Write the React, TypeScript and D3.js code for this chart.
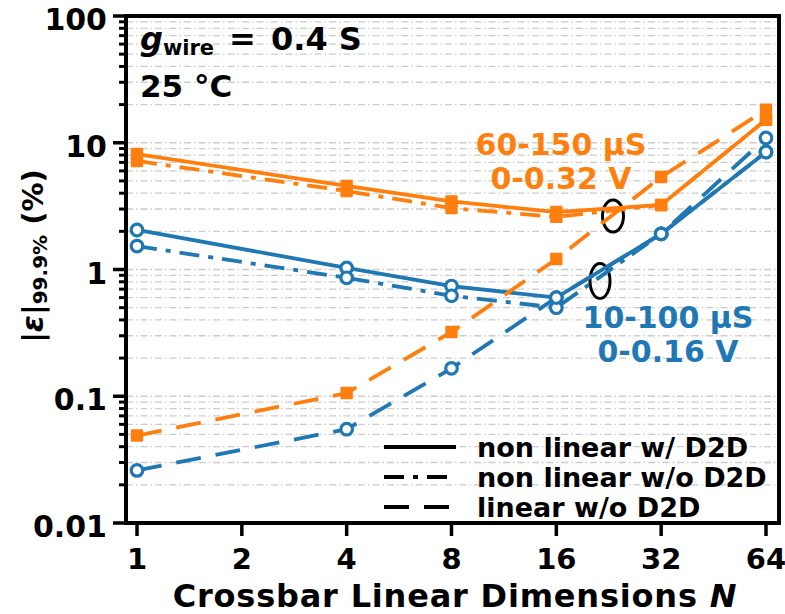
import React from "react";
import * as d3 from "d3";

// Crossbar sizes N
const sizes = [1, 4, 8, 16, 32, 64];

// 60-150 µS, 0-0.32 V (orange)
const orangeNonLinD2D = [8.15, 4.56, 3.45, 2.84, 3.23, 15.2];
const orangeNonLinNoD2D = [7.18, 4.16, 3.05, 2.6, 3.23, 15.2];
const orangeLinNoD2D = [0.049, 0.106, 0.321, 1.21, 5.37, 18.2];

// 10-100 µS, 0-0.16 V (blue)
const blueNonLinD2D = [2.05, 1.03, 0.74, 0.6, 1.91, 8.45];
const blueNonLinNoD2D = [1.53, 0.86, 0.62, 0.5, 1.91, 8.45];
const blueLinNoD2D = [0.026, 0.055, 0.166, 0.6, 1.91, 10.9];

const xTicks = [1, 2, 4, 8, 16, 32, 64];
const yTicks = [0.01, 0.1, 1, 10, 100];
const yTickLabels = ["0.01", "0.1", "1", "10", "100"];

const legendLabels = ["non linear w/ D2D", "non linear w/o D2D", "linear w/o D2D"];

const ORANGE = "#ff7f0e";
const BLUE = "#1f77b4";
const FONT = "'DejaVu Sans', sans-serif";

const DASH = {
  solid: undefined as string | undefined,
  dashdot: "20,9,5,9",
  dashed: "25,15",
};

export default function App() {
  const W = 785;
  const H = 614;
  const left = 126;
  const right = 779;
  const top = 16;
  const bottom = 523;

  const x = d3.scaleLog().base(2).domain([1, 64]).range([137, 766]);
  const y = d3.scaleLog().domain([0.01, 100]).range([bottom, top]);

  const line = d3
    .line<[number, number]>()
    .x((d) => x(d[0]))
    .y((d) => y(d[1]));

  const pairs = (vals: number[]) => sizes.map((n, i) => [n, vals[i]] as [number, number]);

  // grid values: every major and minor decade step
  const gridVals: number[] = [];
  for (let e = -2; e < 2; e++) {
    for (let k = 1; k < 10; k++) gridVals.push(k * Math.pow(10, e));
  }
  gridVals.push(100);
  const minorVals = gridVals.filter((v) => !yTicks.some((t) => Math.abs(t - v) / t < 1e-6));

  const series = [
    { vals: blueNonLinD2D, color: BLUE, dash: DASH.solid, marker: "circle" },
    { vals: blueNonLinNoD2D, color: BLUE, dash: DASH.dashdot, marker: "circle" },
    { vals: blueLinNoD2D, color: BLUE, dash: DASH.dashed, marker: "circle" },
    { vals: orangeNonLinD2D, color: ORANGE, dash: DASH.solid, marker: "square" },
    { vals: orangeNonLinNoD2D, color: ORANGE, dash: DASH.dashdot, marker: "square" },
    { vals: orangeLinNoD2D, color: ORANGE, dash: DASH.dashed, marker: "square" },
  ];

  const legendDashes = [DASH.solid, DASH.dashdot, DASH.dashed];
  const legendBaselines = [457, 487, 517];

  return (
    <svg
      width={W}
      height={H}
      style={{ position: "absolute", left: 0, top: 0, background: "#fff" }}
      fontFamily={FONT}
      fontWeight="bold"
    >
      <rect x={0} y={0} width={W} height={H} fill="#fff" />

      {/* horizontal grid */}
      {gridVals.map((v, i) => (
        <line
          key={"g" + i}
          x1={left}
          x2={right}
          y1={y(v)}
          y2={y(v)}
          stroke="#cccccc"
          strokeWidth={1.3}
          strokeDasharray="7,3,1.5,3"
        />
      ))}

      {/* circling marks */}
      <ellipse cx={613} cy={216} rx={10.5} ry={16} fill="none" stroke="#000" strokeWidth={3} />
      <ellipse cx={600} cy={281} rx={10} ry={17.5} fill="none" stroke="#000" strokeWidth={3} />

      {/* data lines */}
      {series.map((s, i) => (
        <path
          key={"l" + i}
          d={line(pairs(s.vals)) || ""}
          fill="none"
          stroke={s.color}
          strokeWidth={3.8}
          strokeDasharray={s.dash}
        />
      ))}

      {/* markers */}
      {series.map((s, i) =>
        pairs(s.vals).map((p, j) =>
          s.marker === "circle" ? (
            <circle
              key={"m" + i + "-" + j}
              cx={x(p[0])}
              cy={y(p[1])}
              r={5.8}
              fill="#fff"
              stroke={s.color}
              strokeWidth={3.2}
            />
          ) : (
            <rect
              key={"m" + i + "-" + j}
              x={x(p[0]) - 5}
              y={y(p[1]) - 5}
              width={10}
              height={10}
              fill={s.color}
              stroke={s.color}
              strokeWidth={2.4}
              strokeLinejoin="round"
            />
          )
        )
      )}

      {/* range annotations */}
      <text x={561} y={155} fill={ORANGE} fontSize={30} textAnchor="middle">60-150 µS</text>
      <text x={561} y={189} fill={ORANGE} fontSize={30} textAnchor="middle">0-0.32 V</text>
      <text x={668} y={328} fill={BLUE} fontSize={30} textAnchor="middle">10-100 µS</text>
      <text x={668} y={362} fill={BLUE} fontSize={30} textAnchor="middle">0-0.16 V</text>

      {/* conditions */}
      <text y={50} fontSize={32} fill="#000">
        <tspan x={140} fontStyle="italic">g</tspan>
        <tspan fontSize={21} dy={5}>wire</tspan>
        <tspan x={229} dy={-5}>=</tspan>
        <tspan x={271}>0.4 S</tspan>
      </text>
      <text x={140} y={97} fontSize={31} fill="#000">25 °C</text>

      {/* legend */}
      {legendLabels.map((lab, i) => (
        <g key={"lg" + i}>
          <line
            x1={384}
            x2={456}
            y1={legendBaselines[i] - 10}
            y2={legendBaselines[i] - 10}
            stroke="#000"
            strokeWidth={3.8}
            strokeDasharray={legendDashes[i]}
          />
          <text x={477} y={legendBaselines[i]} fontSize={27} fill="#000">
            {lab}
          </text>
        </g>
      ))}

      {/* y ticks */}
      {minorVals.map((v, i) => (
        <line key={"ym" + i} x1={119} x2={left} y1={y(v)} y2={y(v)} stroke="#000" strokeWidth={3} />
      ))}
      {yTicks.map((v, i) => (
        <g key={"yt" + i}>
          <line x1={113} x2={left} y1={y(v)} y2={y(v)} stroke="#000" strokeWidth={3.5} />
          <text x={107} y={y(v) + 14} fontSize={30} textAnchor="end" fill="#000">
            {yTickLabels[i]}
          </text>
        </g>
      ))}

      {/* x ticks */}
      {xTicks.map((v, i) => (
        <g key={"xt" + i}>
          <line x1={x(v)} x2={x(v)} y1={bottom} y2={536} stroke="#000" strokeWidth={3.5} />
          <text x={x(v)} y={569} fontSize={29} textAnchor="middle" fill="#000">
            {String(v)}
          </text>
        </g>
      ))}

      {/* frame */}
      <rect
        x={left}
        y={top}
        width={right - left}
        height={bottom - top}
        fill="none"
        stroke="#000"
        strokeWidth={4}
      />

      {/* axis titles */}
      <text x={455} y={607} fontSize={32} letterSpacing={0.8} textAnchor="middle" fill="#000">
        Crossbar Linear Dimensions <tspan fontStyle="italic">N</tspan>
      </text>
      <text transform="translate(43,256) rotate(-90)" fontSize={29} textAnchor="middle" fill="#000">
        <tspan>|</tspan>
        <tspan fontStyle="italic" fontSize={31}>ε</tspan>
        <tspan>|</tspan>
        <tspan fontSize={20} dy={4}>99.9%</tspan>
        <tspan dy={-4}> (%)</tspan>
      </text>
    </svg>
  );
}
